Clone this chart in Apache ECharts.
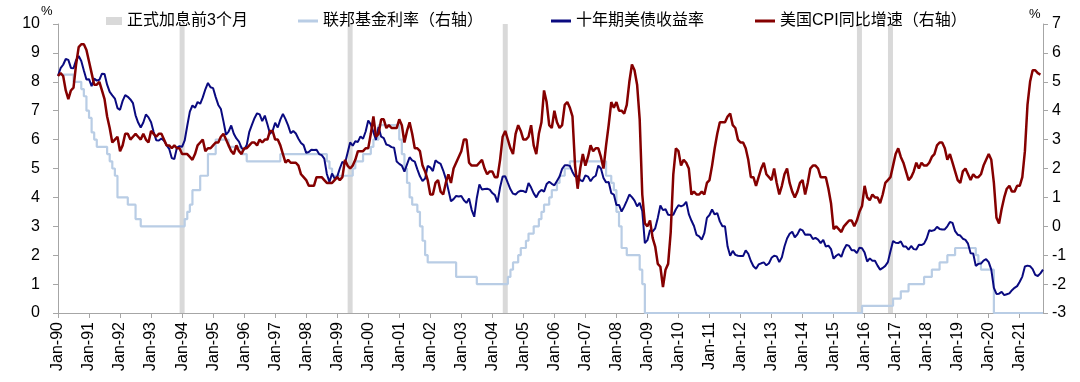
<!DOCTYPE html>
<html>
<head>
<meta charset="utf-8">
<script src="https://cdn.jsdelivr.net/npm/echarts@6/dist/echarts.min.js"></script>
<style>html,body{margin:0;padding:0;background:#fff;}#c{width:1080px;height:382px;}</style>
</head>
<body>
<div id="c"></div>
<script>
// ---- data ----
const monthNames = ['Jan','Feb','Mar','Apr','May','Jun','Jul','Aug','Sep','Oct','Nov','Dec'];
const firstYear = 1990, lastYear = 2021, lastMonthIndex = 9; // Oct-21

// 10-year US Treasury yield (%), monthly, left axis
const treasury10y = [
8.21,8.47,8.59,8.79,8.76,8.48,8.47,8.75,8.89,8.72,8.39,8.08,
8.09,7.85,8.11,8.04,8.07,8.28,8.27,7.90,7.65,7.53,7.42,7.09,
7.03,7.34,7.54,7.48,7.39,7.26,6.84,6.59,6.42,6.59,6.87,6.77,
6.60,6.26,5.98,5.97,6.04,5.96,5.81,5.68,5.36,5.33,5.72,5.77,
5.75,5.97,6.48,6.97,7.18,7.10,7.30,7.24,7.46,7.74,7.96,7.81,
7.78,7.47,7.20,7.06,6.63,6.17,6.28,6.49,6.20,6.04,5.93,5.71,
5.65,5.81,6.27,6.51,6.74,6.91,6.87,6.64,6.83,6.53,6.20,6.30,
6.58,6.42,6.69,6.89,6.71,6.49,6.22,6.30,6.21,6.03,5.88,5.81,
5.54,5.57,5.65,5.64,5.65,5.50,5.46,5.34,4.81,4.53,4.83,4.65,
4.72,5.00,5.23,5.18,5.54,5.90,5.79,5.94,5.92,6.11,6.03,6.28,
6.66,6.52,6.26,5.99,6.44,6.10,6.05,5.83,5.80,5.74,5.72,5.24,
5.16,5.10,4.89,5.14,5.39,5.28,5.24,4.97,4.73,4.57,4.65,5.09,
5.04,4.91,5.28,5.21,5.16,4.93,4.65,4.26,3.87,3.94,4.05,4.03,
4.05,3.90,3.81,3.96,3.57,3.33,3.98,4.45,4.27,4.29,4.30,4.27,
4.15,4.08,3.83,4.35,4.72,4.73,4.50,4.28,4.13,4.10,4.19,4.23,
4.22,4.17,4.50,4.34,4.14,4.00,4.18,4.26,4.20,4.46,4.54,4.47,
4.42,4.57,4.72,4.99,5.11,5.11,5.09,4.88,4.72,4.73,4.60,4.56,
4.76,4.72,4.56,4.69,4.75,5.10,5.00,4.67,4.52,4.53,4.15,4.10,
3.74,3.74,3.51,3.68,3.88,4.10,4.01,3.89,3.69,3.81,3.53,2.42,
2.52,2.87,2.82,2.93,3.29,3.72,3.56,3.59,3.40,3.39,3.40,3.59,
3.73,3.69,3.73,3.85,3.42,3.20,3.01,2.70,2.65,2.54,2.76,3.29,
3.39,3.58,3.41,3.46,3.17,3.00,3.00,2.30,1.98,2.15,2.01,1.98,
1.97,1.97,2.17,2.05,1.80,1.62,1.53,1.68,1.72,1.75,1.65,1.72,
1.91,1.98,1.96,1.76,1.93,2.30,2.58,2.74,2.81,2.62,2.72,2.90,
2.86,2.71,2.72,2.71,2.56,2.60,2.54,2.42,2.53,2.30,2.33,2.21,
1.88,1.98,2.04,1.94,2.20,2.36,2.32,2.17,2.17,2.07,2.26,2.24,
2.09,1.78,1.89,1.81,1.81,1.64,1.50,1.56,1.63,1.76,2.14,2.49,
2.43,2.42,2.48,2.30,2.30,2.19,2.32,2.21,2.20,2.36,2.35,2.40,
2.58,2.86,2.84,2.87,2.98,2.91,2.89,2.89,3.00,3.15,3.12,2.83,
2.71,2.68,2.57,2.53,2.40,2.07,2.06,1.63,1.70,1.71,1.81,1.86,
1.76,1.50,0.87,0.66,0.67,0.73,0.62,0.65,0.68,0.79,0.87,0.93,
1.08,1.26,1.61,1.64,1.62,1.52,1.32,1.28,1.37,1.50
];

// US CPI YoY (%), monthly, right axis
const cpiYoY = [
5.2,5.3,5.2,4.7,4.4,4.7,4.8,5.6,6.2,6.3,6.3,6.1,
5.7,5.3,4.9,4.9,5.0,4.7,4.4,3.8,3.4,2.9,3.0,3.1,
2.6,2.8,3.2,3.2,3.0,3.1,3.2,3.1,3.0,3.2,3.0,2.9,
3.3,3.2,3.1,3.2,3.2,3.0,2.8,2.8,2.7,2.8,2.7,2.7,
2.5,2.5,2.5,2.4,2.3,2.5,2.8,2.9,3.0,2.6,2.7,2.7,
2.8,2.9,2.9,3.1,3.2,3.0,2.8,2.6,2.5,2.8,2.6,2.5,
2.7,2.7,2.8,2.9,2.9,2.8,3.0,2.9,3.0,3.0,3.3,3.3,
3.0,3.0,2.8,2.5,2.2,2.3,2.2,2.2,2.2,2.1,1.8,1.7,
1.6,1.4,1.4,1.4,1.7,1.7,1.7,1.6,1.5,1.5,1.5,1.6,
1.7,1.6,1.7,2.3,2.1,2.0,2.1,2.3,2.6,2.6,2.6,2.7,
2.7,3.2,3.8,3.1,3.2,3.7,3.7,3.4,3.5,3.4,3.4,3.4,
3.7,3.5,2.9,3.3,3.6,3.2,2.7,2.7,2.6,2.1,1.9,1.6,
1.1,1.1,1.5,1.6,1.2,1.1,1.5,1.8,1.5,2.0,2.2,2.4,
2.6,3.0,3.0,2.2,2.1,2.1,2.1,2.2,2.3,2.0,1.8,1.9,
1.9,1.7,1.7,2.3,3.1,3.3,3.0,2.7,2.5,3.2,3.5,3.3,
3.0,3.0,3.1,3.5,2.8,2.5,3.2,3.6,4.7,4.3,3.5,3.4,
4.0,3.6,3.4,3.5,4.2,4.3,4.1,3.8,2.1,1.3,2.0,2.5,
2.1,2.4,2.8,2.6,2.7,2.7,2.4,2.0,2.8,3.5,4.3,4.1,
4.3,4.0,4.0,3.9,4.2,5.0,5.6,5.4,4.9,3.7,1.1,0.1,
0.0,0.2,-0.4,-0.7,-1.3,-1.4,-2.1,-1.5,-1.3,-0.2,1.8,2.7,
2.6,2.1,2.3,2.2,2.0,1.1,1.2,1.1,1.1,1.2,1.1,1.5,
1.6,2.1,2.7,3.2,3.6,3.6,3.6,3.8,3.9,3.5,3.4,3.0,
2.9,2.9,2.7,2.3,1.7,1.7,1.4,1.7,2.0,2.2,1.8,1.7,
1.6,2.0,1.5,1.1,1.4,1.8,2.0,1.5,1.2,1.0,1.2,1.5,
1.6,1.1,1.5,2.0,2.1,2.1,2.0,1.7,1.7,1.7,1.3,0.8,
-0.1,0.0,-0.1,-0.2,0.0,0.1,0.2,0.2,0.0,0.2,0.5,0.7,
1.4,1.0,0.9,1.1,1.0,1.0,0.8,1.1,1.5,1.6,1.7,2.1,
2.5,2.7,2.4,2.2,1.9,1.6,1.7,1.9,2.2,2.0,2.2,2.1,
2.1,2.2,2.4,2.5,2.8,2.9,2.9,2.7,2.3,2.5,2.2,1.9,
1.6,1.5,1.9,2.0,1.8,1.6,1.8,1.7,1.7,1.8,2.1,2.3,
2.5,2.3,1.5,0.3,0.1,0.6,1.0,1.3,1.4,1.2,1.2,1.4,
1.4,1.7,2.6,4.2,5.0,5.4,5.4,5.3,5.25,null
];

// Federal funds target rate (%), monthly, drawn on left scale
const fedFunds = [
8.25,8.25,8.25,8.25,8.25,8.25,8.0,8.0,8.0,7.75,7.5,7.0,
6.75,6.25,6.0,5.75,5.75,5.75,5.75,5.5,5.25,5.0,4.75,4.0,
4.0,4.0,4.0,3.75,3.75,3.75,3.25,3.25,3.0,3.0,3.0,3.0,
3.0,3.0,3.0,3.0,3.0,3.0,3.0,3.0,3.0,3.0,3.0,3.0,
3.0,3.25,3.5,3.75,4.25,4.25,4.25,4.75,4.75,4.75,5.5,5.5,
5.5,6.0,6.0,6.0,6.0,6.0,5.75,5.75,5.75,5.75,5.75,5.5,
5.5,5.25,5.25,5.25,5.25,5.25,5.25,5.25,5.25,5.25,5.25,5.25,
5.25,5.25,5.5,5.5,5.5,5.5,5.5,5.5,5.5,5.5,5.5,5.5,
5.5,5.5,5.5,5.5,5.5,5.5,5.5,5.5,5.25,5.0,4.75,4.75,
4.75,4.75,4.75,4.75,4.75,4.75,5.0,5.25,5.25,5.25,5.5,5.5,
5.5,5.75,6.0,6.0,6.5,6.5,6.5,6.5,6.5,6.5,6.5,6.5,
6.0,5.5,5.0,4.5,4.0,3.75,3.75,3.5,3.0,2.5,2.0,1.75,
1.75,1.75,1.75,1.75,1.75,1.75,1.75,1.75,1.75,1.75,1.25,1.25,
1.25,1.25,1.25,1.25,1.25,1.25,1.0,1.0,1.0,1.0,1.0,1.0,
1.0,1.0,1.0,1.0,1.0,1.0,1.25,1.5,1.75,1.75,2.0,2.25,
2.25,2.5,2.75,2.75,3.0,3.0,3.25,3.5,3.75,3.75,4.0,4.25,
4.25,4.5,4.75,4.75,5.0,5.0,5.25,5.25,5.25,5.25,5.25,5.25,
5.25,5.25,5.25,5.25,5.25,5.25,5.25,5.25,4.75,4.75,4.5,4.25,
3.5,3.0,2.25,2.25,2.0,2.0,2.0,2.0,2.0,1.5,1.0,0,
0,0,0,0,0,0,0,0,0,0,0,0,
0,0,0,0,0,0,0,0,0,0,0,0,
0,0,0,0,0,0,0,0,0,0,0,0,
0,0,0,0,0,0,0,0,0,0,0,0,
0,0,0,0,0,0,0,0,0,0,0,0,
0,0,0,0,0,0,0,0,0,0,0,0,
0,0,0,0,0,0,0,0,0,0,0,0.25,
0.25,0.25,0.25,0.25,0.25,0.25,0.25,0.25,0.25,0.25,0.25,0.5,
0.5,0.5,0.75,0.75,0.75,1.0,1.0,1.0,1.0,1.0,1.0,1.25,
1.25,1.25,1.5,1.5,1.5,1.75,1.75,1.75,2.0,2.0,2.0,2.25,
2.25,2.25,2.25,2.25,2.25,2.25,2.25,2.0,1.75,1.5,1.5,1.5,
1.5,1.5,0,0,0,0,0,0,0,0,0,0,
0,0,0,0,0,0,0,0,0,0
];

// Shaded months (3 months before the first formal hike)
const hikeBandMonths = ['Jan-94','Jun-99','Jun-04','Nov-15','Nov-16'];
const hikeBandHeight = 10;

const leftTicks = {min: 0, max: 10, interval: 1};
const rightTicks = {min: -3, max: 7, interval: 1};

const seriesNames = ['正式加息前3个月','联邦基金利率（右轴）','十年期美债收益率','美国CPI同比增速（右轴）'];

// ---- build ----
const categories = [];
for (let y = firstYear; y <= lastYear; y++) {
  const lastM = (y === lastYear) ? lastMonthIndex : 11;
  for (let m = 0; m <= lastM; m++) {
    categories.push(monthNames[m] + '-' + String(y % 100).padStart(2, '0'));
  }
}
const bandData = categories.map(c => hikeBandMonths.indexOf(c) >= 0 ? hikeBandHeight : null);

const FONT = "'Liberation Sans', Arial, 'Noto Sans CJK SC', sans-serif";
const axisColor = '#a6a6a6';
const isJan = (i) => i % 12 === 0;

const chart = echarts.init(document.getElementById('c'), null, {renderer: 'canvas'});
const legendBase = {
  top: 8, itemGap: 0, itemWidth: 20, itemHeight: 3,
  textStyle: {fontSize: 16, color: '#000', fontFamily: FONT},
  selectedMode: false
};
chart.setOption({
  animation: false,
  backgroundColor: '#fff',
  textStyle: {fontFamily: FONT},
  grid: {left: 58, right: 37, top: 24, bottom: 69, containLabel: false},
  legend: [
    Object.assign({}, legendBase, {left: 101, itemWidth: 16, itemHeight: 8, data: [{name: seriesNames[0], icon: 'rect'}]}),
    Object.assign({}, legendBase, {left: 293, data: [{name: seriesNames[1], icon: 'rect'}]}),
    Object.assign({}, legendBase, {left: 546, data: [{name: seriesNames[2], icon: 'rect'}]}),
    Object.assign({}, legendBase, {left: 750, data: [{name: seriesNames[3], icon: 'rect'}]})
  ],
  xAxis: {
    type: 'category',
    data: categories,
    boundaryGap: false,
    axisLine: {lineStyle: {color: axisColor, width: 1}},
    axisTick: {show: true, interval: (i) => isJan(i), length: 5, lineStyle: {color: axisColor}},
    axisLabel: {interval: (i) => isJan(i), rotate: 90, margin: 9, fontSize: 16, color: '#000', fontFamily: FONT},
    splitLine: {show: false}
  },
  yAxis: [
    {
      type: 'value', position: 'left',
      min: leftTicks.min, max: leftTicks.max, interval: leftTicks.interval,
      axisLine: {show: true, lineStyle: {color: axisColor}},
      axisTick: {show: true, length: 5, lineStyle: {color: axisColor}},
      axisLabel: {fontSize: 16, color: '#000', margin: 18, fontFamily: FONT},
      splitLine: {show: false}
    },
    {
      type: 'value', position: 'right',
      min: rightTicks.min, max: rightTicks.max, interval: rightTicks.interval,
      axisLine: {show: true, lineStyle: {color: axisColor}},
      axisTick: {show: true, length: 5, lineStyle: {color: axisColor}},
      axisLabel: {fontSize: 16, color: '#000', margin: 9, fontFamily: FONT},
      splitLine: {show: false}
    }
  ],
  graphic: [
    {type: 'text', left: 41, top: 5, style: {text: '%', fontSize: 13, fill: '#000', fontFamily: FONT}},
    {type: 'text', left: 1029, top: 8, style: {text: '%', fontSize: 13, fill: '#000', fontFamily: FONT}}
  ],
  series: [
    {
      name: seriesNames[0], type: 'bar', yAxisIndex: 0, data: bandData,
      barWidth: 5, itemStyle: {color: '#d9d9d9'}, z: 1, silent: true
    },
    {
      name: seriesNames[1], type: 'line', yAxisIndex: 0, data: fedFunds, step: 'end',
      showSymbol: false, symbol: 'none', lineStyle: {color: '#b9cde5', width: 2.2}, itemStyle: {color: '#b9cde5'}, z: 2
    },
    {
      name: seriesNames[2], type: 'line', yAxisIndex: 0, data: treasury10y,
      showSymbol: false, symbol: 'none', lineStyle: {color: '#0a0a80', width: 2}, itemStyle: {color: '#0a0a80'}, z: 3
    },
    {
      name: seriesNames[3], type: 'line', yAxisIndex: 1, data: cpiYoY,
      showSymbol: false, symbol: 'none', lineStyle: {color: '#850000', width: 2.5}, itemStyle: {color: '#850000'}, z: 4
    }
  ]
});
</script>
</body>
</html>
